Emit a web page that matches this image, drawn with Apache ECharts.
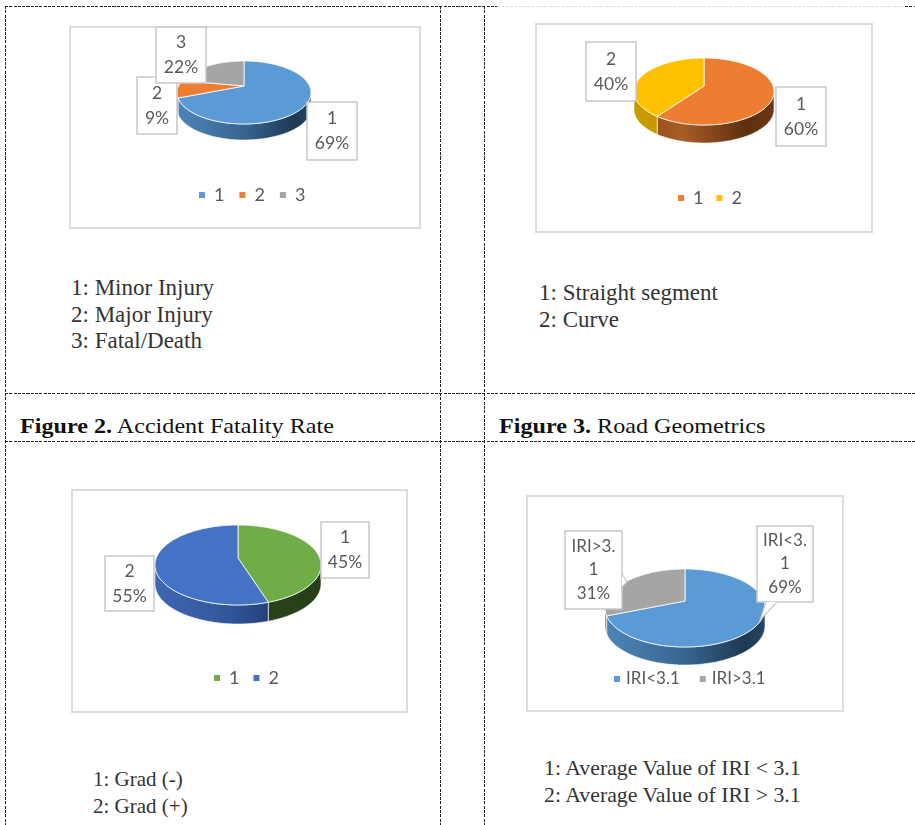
<!DOCTYPE html>
<html>
<head>
<meta charset="utf-8">
<script src="https://cdn.jsdelivr.net/npm/echarts@6/dist/echarts.min.js"></script>
<style>
html, body { margin: 0; padding: 0; background: #fff; }
#page { position: relative; width: 915px; height: 825px; overflow: hidden; font-family: "Liberation Serif", serif; color: #222; }
.frame { position: absolute; outline: 2px solid #dcdcdc; outline-offset: -2px; }
.hline, .vline { position: absolute; }
.hline { height: 1px; background: repeating-linear-gradient(90deg, #222 0 3px, transparent 3px 4.3px); }
.vline { width: 1px; background: repeating-linear-gradient(180deg, #222 0 3px, transparent 3px 4.3px); }
.note { position: absolute; line-height: 26.5px; white-space: nowrap; color: #333; }
.caption { position: absolute; font-size: 22px; line-height: 26px; white-space: nowrap; color: #111; transform: scaleX(1.097); transform-origin: left center; }
</style>
</head>
<body>
<div id="page">
  <div class="hline" style="left:5px;top:6px;width:492px"></div>
  <div class="hline" style="left:497px;top:6px;width:408px;background:repeating-linear-gradient(90deg,#ddd 0 3px,transparent 3px 4.3px)"></div>
  <div class="hline" style="left:905px;top:6px;width:10px"></div>
  <div class="hline" style="left:5px;top:393px;width:910px"></div>
  <div class="hline" style="left:5px;top:441px;width:910px"></div>
  <div class="vline" style="left:5px;top:6px;height:819px"></div>
  <div class="vline" style="left:440px;top:6px;height:819px"></div>
  <div class="vline" style="left:484px;top:6px;height:819px"></div>

  <div class="frame" id="pieFatality" style="left:69px;top:26px;width:352px;height:203px"></div>
  <div class="frame" id="pieGeometry" style="left:535px;top:23px;width:338px;height:210px"></div>
  <div class="frame" id="pieGrade" style="left:71px;top:489px;width:337px;height:224px"></div>
  <div class="frame" id="pieIri" style="left:526px;top:495px;width:318px;height:217px"></div>

  <div class="note" style="left:71px;top:275px;font-size:23px">1: Minor Injury<br>2: Major Injury<br>3: Fatal/Death</div>
  <div class="note" style="left:539px;top:280px;font-size:23px">1: Straight segment<br>2: Curve</div>
  <div class="note" style="left:93px;top:766px;font-size:21px">1: Grad (-)<br>2: Grad (+)</div>
  <div class="note" style="left:544px;top:755px;font-size:21.8px">1: Average Value of IRI &lt; 3.1<br>2: Average Value of IRI &gt; 3.1</div>

  <div class="caption" style="left:20px;top:413px"><b>Figure 2.</b> Accident Fatality Rate</div>
  <div class="caption" style="left:499px;top:413px"><b>Figure 3.</b> Road Geometrics</div>
</div>
<script>
const fatalityNames = ['1', '2', '3']
const fatalityValues = [69, 9, 22]
const geometryNames = ['1', '2']
const geometryValues = [60, 40]
const gradeNames = ['1', '2']
const gradeValues = [45, 55]
const iriNames = ['IRI<3.1', 'IRI>3.1']
const iriValues = [69, 31]
const iriLabelNames = ['IRI<3.\n1', 'IRI>3.\n1']

const BLUE_SIDE = [[0, '#4f84b8'], [0.5, '#386590'], [0.88, '#1e3950'], [1, '#264766']]

// all layout numbers are page pixels, frame is subtracted when drawing
function drawPie(cfg) {
  const chart = echarts.init(document.getElementById(cfg.id), null, { renderer: 'canvas' })
  const total = cfg.values.reduce((a, b) => a + b, 0)
  const g = cfg.pie
  // perspective of the tilted disc: back half is shorter than the front half
  const k = (g.down - g.up) / (g.down + g.up)
  const S = g.up * (1 + k)
  const R = g.rx * Math.sqrt(1 - k * k)
  const ax = g.ax - cfg.frame[0]
  const ay = g.ay - cfg.frame[1]
  const rim = (t) => {
    const d = 1 + k * Math.cos(t)
    return [ax + (R * Math.sin(t)) / d, ay - (S * Math.cos(t)) / d]
  }
  const arc = (a, b) => {
    const n = Math.max(2, Math.ceil((b - a) / 0.03))
    const pts = []
    for (let i = 0; i <= n; i++) pts.push(rim(a + ((b - a) * i) / n))
    return pts
  }
  const frontA = Math.acos(-k)
  const frontB = 2 * Math.PI - frontA

  let cum = 0
  const series = cfg.names.map((name, i) => {
    const start = cum
    cum += cfg.values[i]
    return {
      name: name,
      type: 'custom',
      coordinateSystem: 'none',
      silent: true,
      animation: false,
      z: 2,
      itemStyle: { color: cfg.colors[i] },
      data: [[cfg.values[i], start]],
      renderItem(params, api) {
        const a = (api.value(1) / total) * 2 * Math.PI
        const b = a + (api.value(0) / total) * 2 * Math.PI
        const children = []
        const lo = Math.max(a, frontA)
        const hi = Math.min(b, frontB)
        if (lo < hi) {
          const top = arc(lo, hi)
          const bottom = top.map((p) => [p[0], p[1] + g.depth]).reverse()
          children.push({
            type: 'polygon',
            z2: 1,
            shape: { points: top.concat(bottom) },
            style: {
              fill: new echarts.graphic.LinearGradient(
                ax - g.rx, 0, ax + g.rx, 0,
                cfg.sides[i].map((s) => ({ offset: s[0], color: s[1] })),
                true
              ),
              stroke: 'rgba(255,255,255,0.75)',
              lineWidth: 0.8,
            },
          })
        }
        children.push({
          type: 'polygon',
          z2: 2,
          shape: { points: [[ax, ay]].concat(arc(a, b)) },
          style: { fill: cfg.colors[i], stroke: 'rgba(255,255,255,0.8)', lineWidth: 1 },
        })
        return { type: 'group', children: children }
      },
    }
  })

  // callout boxes on top of the pie
  const texts = cfg.names.map((name, i) => (cfg.labelNames ? cfg.labelNames[i] : name) + '\n' + cfg.values[i] + '%')
  series.push({
    name: 'callouts',
    type: 'custom',
    coordinateSystem: 'none',
    silent: true,
    animation: false,
    z: 5,
    data: texts.map((t, i) => [i]),
    renderItem(params, api) {
      const i = api.value(0)
      const box = cfg.boxes[i]
      const x0 = box[0] - cfg.frame[0]
      const y0 = box[1] - cfg.frame[1]
      const w = box[2] - box[0]
      const h = box[3] - box[1]
      const children = [
        {
          type: 'rect',
          z2: 1,
          shape: { x: x0, y: y0, width: w, height: h },
          style: { fill: '#fff', stroke: '#c8c8c8', lineWidth: 1.5 },
        },
      ]
      const tip = cfg.tips && cfg.tips[i]
      if (tip) {
        const pts = tip.map((p) => [p[0] - cfg.frame[0], p[1] - cfg.frame[1]])
        children.push({ type: 'polygon', z2: 2, shape: { points: pts }, style: { fill: '#fff' } })
        children.push({
          type: 'polyline',
          z2: 3,
          shape: { points: pts },
          style: { fill: 'none', stroke: '#c8c8c8', lineWidth: 1.2 },
        })
      }
      children.push({
        type: 'text',
        z2: 4,
        style: {
          text: texts[i],
          x: x0 + w / 2,
          y: y0 + h / 2,
          align: 'center',
          verticalAlign: 'middle',
          fill: '#595959',
          fontFamily: 'Lato',
          fontSize: cfg.labelSize,
          lineHeight: cfg.labelLine,
        },
      })
      return { type: 'group', children: children }
    },
  })

  chart.setOption({
    animation: false,
    legend: {
      data: cfg.names,
      left: cfg.legend.x - cfg.frame[0],
      top: cfg.legend.y - cfg.frame[1] - 10,
      icon: 'rect',
      itemWidth: 6,
      itemHeight: 6,
      itemGap: cfg.legend.gap,
      padding: 0,
      selectedMode: false,
      textStyle: {
        color: '#595959',
        fontFamily: 'Lato',
        fontSize: cfg.legend.size,
        padding: [0, 0, 0, cfg.legend.pad],
        lineHeight: 20,
      },
    },
    series: series,
  })
}

drawPie({
  id: 'pieFatality',
  frame: [69, 26],
  names: fatalityNames,
  values: fatalityValues,
  colors: ['#5b9bd5', '#ed7d31', '#a5a5a5'],
  sides: [BLUE_SIDE, [[0, '#b05a20'], [1, '#b05a20']], [[0, '#7a7a7a'], [1, '#7a7a7a']]],
  pie: { ax: 244, ay: 86, rx: 67, up: 25, down: 38, depth: 16 },
  boxes: [[307, 102, 357, 160], [137, 77, 177, 134], [156, 27, 206, 83]],
  labelSize: 17.5,
  labelLine: 25,
  legend: { x: 199, y: 195, gap: 15, size: 18, pad: 4 },
})

drawPie({
  id: 'pieGeometry',
  frame: [535, 23],
  names: geometryNames,
  values: geometryValues,
  colors: ['#ed7d31', '#ffc000'],
  sides: [
    [[0, '#8f4c1c'], [0.35, '#a85c26'], [0.8, '#5e3010'], [1, '#6b3713']],
    [[0, '#c89a00'], [1, '#c89a00']],
  ],
  pie: { ax: 704, ay: 86, rx: 70, up: 28, down: 39, depth: 18 },
  boxes: [[776, 87, 826, 146], [586, 42, 636, 101]],
  labelSize: 17.5,
  labelLine: 25,
  legend: { x: 678, y: 198, gap: 13, size: 18, pad: 4 },
})

drawPie({
  id: 'pieGrade',
  frame: [71, 489],
  names: gradeNames,
  values: gradeValues,
  colors: ['#70ad47', '#4472c4'],
  sides: [
    [[0, '#2c4a1c'], [1, '#263f18']],
    [[0, '#3f68b2'], [0.45, '#31569a'], [0.85, '#1c3263'], [1, '#1c3263']],
  ],
  pie: { ax: 238, ay: 558, rx: 83, up: 33, down: 47, depth: 19 },
  boxes: [[321, 522, 369, 578], [105, 556, 154, 611]],
  labelSize: 17.5,
  labelLine: 25,
  legend: { x: 214, y: 678, gap: 14, size: 18, pad: 4 },
})

drawPie({
  id: 'pieIri',
  frame: [526, 495],
  names: iriNames,
  labelNames: iriLabelNames,
  values: iriValues,
  colors: ['#5b9bd5', '#a5a5a5'],
  sides: [BLUE_SIDE, [[0, '#7a7a7a'], [1, '#7a7a7a']]],
  pie: { ax: 685, ay: 601, rx: 80, up: 32, down: 46, depth: 18 },
  boxes: [[757, 526, 813, 602], [565, 531, 622, 609]],
  tips: [[[777, 602], [760, 620], [766, 602]], [[622, 574], [627, 582], [622, 587]]],
  labelSize: 17,
  labelLine: 23.5,
  legend: { x: 614, y: 679, gap: 20, size: 17, pad: 1 },
})
</script>
</body>
</html>
